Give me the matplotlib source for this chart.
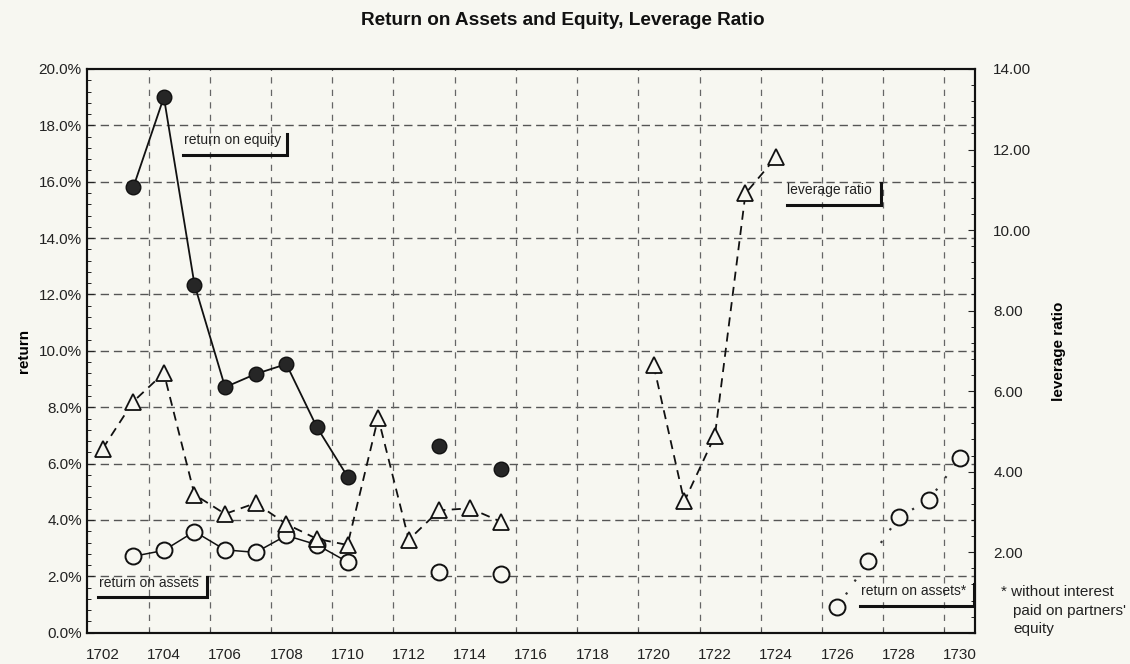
import numpy as np
import matplotlib
matplotlib.use("Agg")
import matplotlib.pyplot as plt
from matplotlib.ticker import MultipleLocator, FuncFormatter, FixedLocator

plt.rcParams['font.family'] = ['Liberation Sans', 'DejaVu Sans']

BG = '#f7f7f1'

# ---- data ----
roe_years = [1703, 1704, 1705, 1706, 1707, 1708, 1709, 1710, 1711, 1712, 1713, 1714, 1715]
roe_vals = [15.8, 19.0, 12.35, 8.71, 9.18, 9.53, 7.29, 5.54, np.nan, np.nan, 6.64, np.nan, 5.82]

roa_years = [1703, 1704, 1705, 1706, 1707, 1708, 1709, 1710, 1711, 1712, 1713, 1714, 1715]
roa_vals = [2.71, 2.92, 3.59, 2.94, 2.85, 3.45, 3.12, 2.51, np.nan, np.nan, 2.17, np.nan, 2.09]

roa_star_years = [1726, 1727, 1728, 1729, 1730]
roa_star_vals = [0.90, 2.53, 4.09, 4.72, 6.19]

lev_years = [1702, 1703, 1704, 1705, 1706, 1707, 1708, 1709, 1710, 1711, 1712, 1713, 1714, 1715,
             1716, 1717, 1718, 1719, 1720, 1721, 1722, 1723, 1724]
lev_vals = [4.57, 5.74, 6.45, 3.43, 2.95, 3.22, 2.70, 2.33, 2.18, 5.34, 2.31, 3.04, 3.09, 2.76,
            np.nan, np.nan, np.nan, np.nan, 6.64, 3.26, 4.89, 10.91, 11.81]

year_ticks = list(range(1702, 1731, 2))
title = "Return on Assets and Equity, Leverage Ratio"

# ---- figure ----
fig = plt.figure(figsize=(11.3, 6.64), dpi=100, facecolor=BG)
ax = fig.add_axes([0.0773, 0.0471, 0.7856, 0.849])
ax.set_facecolor(BG)
ax2 = ax.twinx()

ax.set_xlim(1701.5, 1730.5)
ax.set_ylim(0, 20)
ax2.set_ylim(0, 14)

# grid / ticks
ax.xaxis.set_major_locator(FixedLocator(year_ticks))
ax.xaxis.set_minor_locator(FixedLocator([y + 1.5 for y in year_ticks[:-1]]))
ax.yaxis.set_major_locator(MultipleLocator(2))
ax.yaxis.set_minor_locator(MultipleLocator(0.4))
ax2.yaxis.set_major_locator(FixedLocator([0, 2, 4, 6, 8, 10, 12, 14]))
ax2.yaxis.set_minor_locator(MultipleLocator(0.4))

ax.grid(False)
for yv in range(2, 20, 2):
    ax.axhline(yv, color='#555555', lw=1.0, linestyle=(0, (6, 3.5)), zorder=0)
for xv in [y + 1.5 for y in year_ticks[:-1]]:
    ax.axvline(xv, color='#666666', lw=0.9, linestyle=(0, (5, 5)), zorder=0)

ax.yaxis.set_major_formatter(FuncFormatter(lambda v, p: f"{v:.1f}%"))
ax2.yaxis.set_major_formatter(FuncFormatter(lambda v, p: "" if v == 0 else f"{v:.2f}"))

ax.tick_params(axis='x', which='major', length=0, pad=11, labelsize=11, colors='#222222')
ax.tick_params(axis='x', which='minor', length=3, direction='in', color='#444444')
ax.tick_params(axis='y', which='major', direction='in', length=5, pad=4, labelsize=11, colors='#222222')
ax.tick_params(axis='y', which='minor', direction='in', length=3)
ax2.tick_params(axis='y', which='major', direction='in', length=5, pad=13, labelsize=11, colors='#222222')
ax2.tick_params(axis='y', which='minor', direction='in', length=3)

for a in (ax, ax2):
    for s in a.spines.values():
        s.set_color('#111111')
        s.set_linewidth(1.5)

# ---- series ----
ax.plot(roe_years, roe_vals, color='#111111', lw=1.3, marker='o', ms=10.5,
        mfc='#262626', mec='#111111', zorder=4)
ax.plot(roa_years, roa_vals, color='#111111', lw=1.1, marker='o', ms=11.5,
        mfc=BG, mec='#111111', mew=1.4, zorder=4)
ax.plot(roa_star_years, roa_star_vals, color='#333333', lw=1.6, linestyle=(0, (1, 6)),
        marker='o', ms=11.5, mfc=BG, mec='#111111', mew=1.4, zorder=4)
ax2.plot(lev_years, lev_vals, color='#111111', lw=1.3, linestyle=(0, (5, 3.5)),
         marker='^', ms=11, mfc=BG, mec='#111111', mew=1.3, zorder=4)
ax2.set_facecolor('none')

# ---- labels ----
ax.set_ylabel("return", fontsize=11, fontweight='bold')
ax.yaxis.set_label_coords(-0.064, 0.5)
ax2.set_ylabel("leverage ratio", fontsize=11, fontweight='bold')
ax2.yaxis.set_label_coords(1.0864, 0.5)

fig.text(0.498, 0.969, title, ha='center', va='center', fontsize=13.7, fontweight='bold', color='#111111')

# ---- in-plot labels with shadow-like underline ----
def boxed_label(text, x_text, y_text, x0, x1, y_under, y_top):
    ax.text(x_text, y_text, text, transform=ax.transAxes, fontsize=10, ha='left', va='center',
            color='#222222', zorder=6)
    ax.plot([x0, x1, x1], [y_under, y_under, y_top], transform=ax.transAxes, color='#111111',
            lw=2.2, solid_joinstyle='miter', clip_on=False, zorder=6)

boxed_label("return on equity", 0.109, 0.8735, 0.1078, 0.2249, 0.8480, 0.8847)
boxed_label("leverage ratio", 0.7882, 0.7846, 0.7882, 0.8941, 0.7587, 0.7977)
boxed_label("return on assets", 0.0135, 0.0887, 0.0121, 0.1352, 0.0639, 0.0993)
boxed_label("return on assets*", 0.8712, 0.0740, 0.8705, 0.9986, 0.0474, 0.0864)

# footnote
fig.text(0.886, 0.1089, "* without interest", fontsize=11, ha='left', va='center', color='#222222')
fig.text(0.8965, 0.0798, "paid on partners'", fontsize=11, ha='left', va='center', color='#222222')
fig.text(0.8965, 0.0527, "equity", fontsize=11, ha='left', va='center', color='#222222')

fig.savefig("out.png", dpi=100, facecolor=BG)
